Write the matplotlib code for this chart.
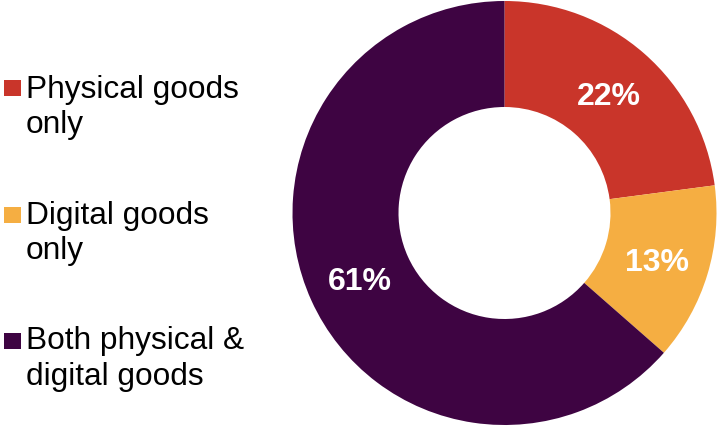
import matplotlib.pyplot as plt
from matplotlib.patches import Rectangle

# Share of shoppers by type of goods bought
categories = ["Physical goods\nonly", "Digital goods\nonly", "Both physical &\ndigital goods"]
shares = [22, 13, 61]
colors = ["#C9352A", "#F5AE42", "#3E0442"]

W, H = 719, 429
plt.rcParams['font.family'] = ['Liberation Sans', 'DejaVu Sans']
fig = plt.figure(figsize=(W / 100, H / 100), dpi=100)

# donut: centre (504.5, 213) px, radius 212 px
cx, cy, r = 504.5, 213, 212
ax = fig.add_axes([(cx - r) / W, (H - cy - r) / H, 2 * r / W, 2 * r / H])
wedges, texts, autotexts = ax.pie(
    shares, colors=colors, startangle=90, counterclock=False, radius=1,
    wedgeprops=dict(width=0.5, linewidth=0),
    autopct=lambda p: f"{round(p * sum(shares) / 100):.0f}%", pctdistance=0.75,
    textprops=dict(color="white", fontsize=23, fontweight="bold"))
for t in autotexts:
    t.set_va("center_baseline")
ax.set_xlim(-1, 1)
ax.set_ylim(-1, 1)
ax.set_aspect("equal")

# hand-placed legend on the left
square_tops = [80, 206.5, 332.5]
last_baselines = [133.5, 259.5, 384.5]
for lab, col, top, yb in zip(categories, colors, square_tops, last_baselines):
    fig.patches.append(Rectangle((4 / W, 1 - (top + 16) / H), 16.5 / W, 16 / H,
                                 transform=fig.transFigure, color=col, linewidth=0))
    fig.text(26 / W, 1 - yb / H, lab, fontsize=22.8, va="baseline", ha="left",
             color="black", linespacing=1.26)

fig.savefig("out.png", dpi=100)
